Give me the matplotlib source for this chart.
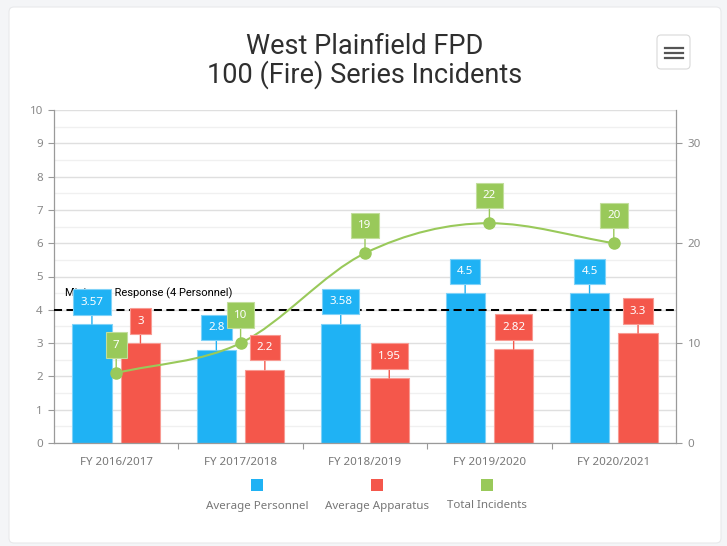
import numpy as np
import matplotlib
matplotlib.use("Agg")
import matplotlib.pyplot as plt
from matplotlib.patches import FancyBboxPatch, PathPatch, Rectangle
from matplotlib.path import Path
from matplotlib.lines import Line2D

plt.rcParams['font.family'] = ['Noto Sans', 'DejaVu Sans']

years = ['FY 2016/2017', 'FY 2017/2018', 'FY 2018/2019', 'FY 2019/2020', 'FY 2020/2021']
avg_personnel = [3.57, 2.8, 3.58, 4.5, 4.5]
avg_apparatus = [3, 2.2, 1.95, 2.82, 3.3]
total_incidents = [7, 10, 19, 22, 20]
min_response = 4
series_names = ['Average Personnel', 'Average Apparatus', 'Total Incidents']

BLUE = '#1fb2f4'
RED = '#f4574b'
GREEN = '#99c95a'
EDGE = {BLUE: '#7fd2f8', RED: '#f89a92', GREEN: '#c2de9c'}


def monotone_path(xs, ys):
    # smooth curve through the points (monotone cubic, as bezier segments)
    xs = np.asarray(xs, float)
    ys = np.asarray(ys, float)
    d = np.diff(ys) / np.diff(xs)
    m = np.zeros_like(ys)
    m[0], m[-1] = d[0], d[-1]
    for i in range(1, len(ys) - 1):
        if d[i - 1] * d[i] <= 0:
            m[i] = 0
        else:
            m[i] = (d[i - 1] + d[i]) / 2
    verts = [(xs[0], ys[0])]
    codes = [Path.MOVETO]
    for i in range(len(xs) - 1):
        h = xs[i + 1] - xs[i]
        verts += [(xs[i] + h / 3, ys[i] + m[i] * h / 3),
                  (xs[i + 1] - h / 3, ys[i + 1] - m[i + 1] * h / 3),
                  (xs[i + 1], ys[i + 1])]
        codes += [Path.CURVE4] * 3
    return Path(verts, codes)


fig = plt.figure(figsize=(7.27, 5.46), dpi=100)
fig.patch.set_facecolor('#f4f5f7')

# card
card = FancyBboxPatch((0.09, 0.03), 7.12, 5.36, boxstyle='round,pad=0,rounding_size=0.05',
                      transform=fig.dpi_scale_trans, fc='white', ec='#e8e9eb', lw=0.8, zorder=-10)
fig.patches.append(card)

# menu button
btn = FancyBboxPatch((6.57, 4.77), 0.33, 0.34, boxstyle='round,pad=0,rounding_size=0.04',
                     transform=fig.dpi_scale_trans, fc='white', ec='#d9d9d9', lw=0.8, zorder=5)
fig.patches.append(btn)
for yy in [4.98, 4.93, 4.88]:
    fig.lines.append(Line2D([6.645, 6.825], [yy, yy], transform=fig.dpi_scale_trans,
                            color='#555555', lw=1.6, zorder=6))

fig.text(365 / 727, 1 - 47 / 546, 'West Plainfield FPD', ha='center', va='center',
         fontsize=19.5, family='Roboto', color='#2f2f2f')
fig.text(365 / 727, 1 - 75 / 546, '100 (Fire) Series Incidents', ha='center', va='center',
         fontsize=19.5, family='Roboto', color='#2f2f2f')

ax = fig.add_axes([54 / 727, 103 / 546, 622 / 727, 333 / 546])
ax2 = ax.twinx()
ax.set_facecolor('none')

x = np.arange(len(years))
ax.set_xlim(-0.5, len(years) - 0.5)
ax.set_ylim(0, 10)
ax2.set_ylim(0, 100 / 3)

ax.set_yticks(range(11))
ax.set_yticks(np.arange(0.5, 10, 1), minor=True)
ax.grid(axis='y', which='major', color='#dfdfdf', lw=1, zorder=0)
ax.grid(axis='y', which='minor', color='#f0f0f0', lw=1, zorder=0)
ax.set_axisbelow(True)

ax.set_xticks(np.arange(0.5, len(years) - 0.5, 1))
ax.set_xticklabels([])
ax.set_xticks(x, minor=True)
ax.set_xticklabels(years, minor=True)
ax.tick_params(axis='x', which='major', length=4.5, color='#999999', width=0.8)
ax.tick_params(axis='x', which='minor', length=0, pad=10, labelsize=8.3, labelcolor='#777777')
ax.tick_params(axis='y', which='major', length=4, color='#999999', width=0.8, pad=4,
               labelsize=8.3, labelcolor='#888888')
ax.tick_params(axis='y', which='minor', length=0)

ax2.set_yticks([0, 10, 20, 30])
ax2.tick_params(axis='y', length=4.5, color='#999999', width=0.8, pad=4,
                labelsize=8.3, labelcolor='#888888')

for a in (ax, ax2):
    for s in a.spines.values():
        s.set_visible(False)
ax.spines['left'].set_visible(True)
ax.spines['bottom'].set_visible(True)
ax2.spines['right'].set_visible(True)
for s in (ax.spines['left'], ax.spines['bottom'], ax2.spines['right']):
    s.set_color('#9a9a9a')
    s.set_linewidth(0.9)

w = 0.315
off = 0.195
ax.bar(x - off, avg_personnel, w, color=BLUE, ec=EDGE[BLUE], lw=0.8, zorder=2)
ax.bar(x + off, avg_apparatus, w, color=RED, ec=EDGE[RED], lw=0.8, zorder=2)

ax.axhline(min_response, color='black', lw=1.45, ls=(0, (4, 2.2)), zorder=3)
ax.annotate('Minimum Response (4 Personnel)', xy=(-0.5, min_response), xytext=(11, 17),
            textcoords='offset pixels', ha='left', va='center', fontsize=8,
            family='Roboto', color='black', zorder=4)

ax2.add_patch(PathPatch(monotone_path(x, total_incidents), fill=False, ec=GREEN, lw=1.5, zorder=3))
ax2.plot(x, total_incidents, 'o', ms=8, color=GREEN, zorder=4)


def label(xv, yv, color, dy, coords):
    ax2.annotate('{:g}'.format(yv), xy=(xv, yv), xycoords=coords, xytext=(0, dy),
                 textcoords='offset pixels', ha='center', va='center', color='white',
                 fontsize=8.3, zorder=6,
                 bbox=dict(boxstyle='square,pad=0.62', fc=color, ec=EDGE[color], lw=0.8),
                 arrowprops=dict(arrowstyle='-', color=color, lw=1, shrinkA=0, shrinkB=0))


for i in range(len(years)):
    label(x[i] - off, avg_personnel[i], BLUE, 22, ax.transData)
    label(x[i] + off, avg_apparatus[i], RED, 22, ax.transData)
    label(x[i], total_incidents[i], GREEN, 28, ax2.transData)

# legend: squares with names underneath
for name, col, cx in zip(series_names, [BLUE, RED, GREEN], [257, 377, 487]):
    fig.patches.append(Rectangle(((cx - 6) / 100, (546 - 491) / 100), 0.12, 0.12,
                                 transform=fig.dpi_scale_trans, fc=col, ec='none'))
    fig.text(cx / 727, 1 - 506 / 546, name, ha='center', va='center', fontsize=8.3, color='#777777')

fig.savefig('out.png', dpi=100, facecolor=fig.get_facecolor())
